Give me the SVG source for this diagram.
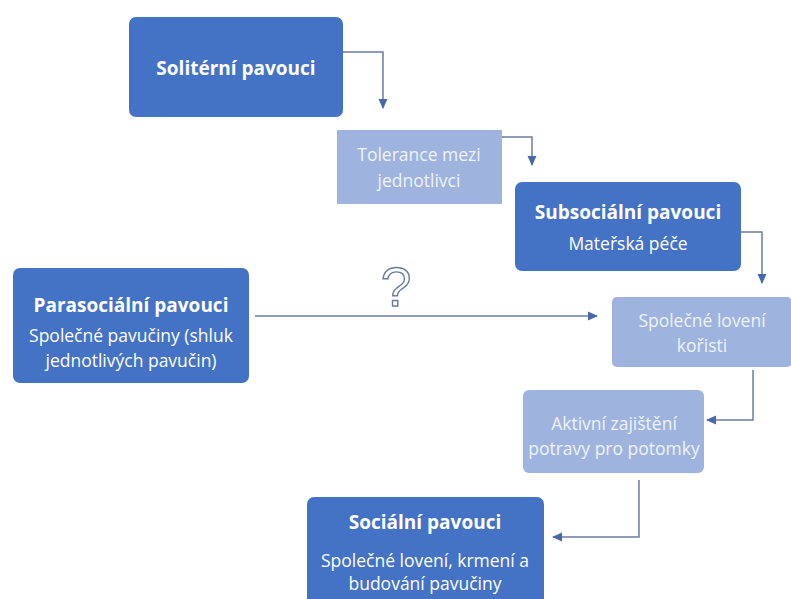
<svg xmlns="http://www.w3.org/2000/svg" width="791" height="599" viewBox="0 0 791 599">
<style>
.dark{fill:#4472C4;}
.light{fill:#9EB4DE;}
.t{font-family:"Open Sans","Liberation Sans",sans-serif;text-anchor:middle;}
.b{font-weight:bold;font-size:19px;fill:#FFFFFF;}
.n{font-size:17.5px;fill:#FFFFFF;}
.l{font-size:17.5px;fill:#EEF2FA;}
.c{fill:none;stroke:#6A7BA3;stroke-width:1.5;}
</style>
<defs>
<marker id="ah" markerWidth="10" markerHeight="10" refX="9" refY="5" orient="auto" markerUnits="userSpaceOnUse">
<path d="M0,0.5 L10,5 L0,9.5 Z" fill="#4A67AC"/>
</marker>
</defs>
<rect width="791" height="599" fill="#FFFFFF"/>
<g id="connectors">
<path class="c" d="M343,52 H383 V108" marker-end="url(#ah)"/>
<path class="c" d="M502,137 H532 V165" marker-end="url(#ah)"/>
<path class="c" d="M741,232 H762 V283" marker-end="url(#ah)"/>
<path class="c" d="M255,316 H597" marker-end="url(#ah)"/>
<path class="c" d="M753,370 V420 H707" marker-end="url(#ah)"/>
<path class="c" d="M639,480 V537 H553" marker-end="url(#ah)"/>
</g>
<g id="question">
<text x="396" y="306" font-family="'Liberation Sans',sans-serif" font-size="55" text-anchor="middle" fill="none" stroke="#6A7BA3" stroke-width="1.4">?</text>
</g>
<g id="solitarni">
<rect class="dark" x="129" y="17" width="214" height="100" rx="7"/>
<text class="t b" x="236" y="75">Solitérní  pavouci</text>
</g>
<g id="tolerance">
<rect class="light" x="337" y="130" width="165" height="74"/>
<text class="t l" x="419" y="161">Tolerance mezi</text>
<text class="t l" x="419" y="187">jednotlivci</text>
</g>
<g id="subsocialni">
<rect class="dark" x="515" y="182" width="226" height="89" rx="7"/>
<text class="t b" x="628" y="219">Subsociální  pavouci</text>
<text class="t n" x="628" y="250">Mateřská péče</text>
</g>
<g id="parasocialni">
<rect class="dark" x="13" y="268" width="236" height="115" rx="7"/>
<text class="t b" x="131" y="312">Parasociální  pavouci</text>
<text class="t n" x="131" y="342">Společné pavučiny (shluk</text>
<text class="t n" x="131" y="367">jednotlivých pavučin)</text>
</g>
<g id="spolecne">
<rect class="light" x="612" y="297" width="180" height="70" rx="5"/>
<text class="t l" x="702" y="327">Společné lovení</text>
<text class="t l" x="702" y="352">kořisti</text>
</g>
<g id="aktivni">
<rect class="light" x="523" y="390" width="181" height="83" rx="6"/>
<text class="t l" x="614" y="430">Aktivní zajištění</text>
<text class="t l" x="614" y="455">potravy pro potomky</text>
</g>
<g id="socialni">
<rect class="dark" x="307" y="497" width="237" height="110" rx="7"/>
<text class="t b" x="425" y="529">Sociální  pavouci</text>
<text class="t n" x="425" y="567">Společné lovení, krmení a</text>
<text class="t n" x="425" y="590">budování pavučiny</text>
</g>
</svg>
